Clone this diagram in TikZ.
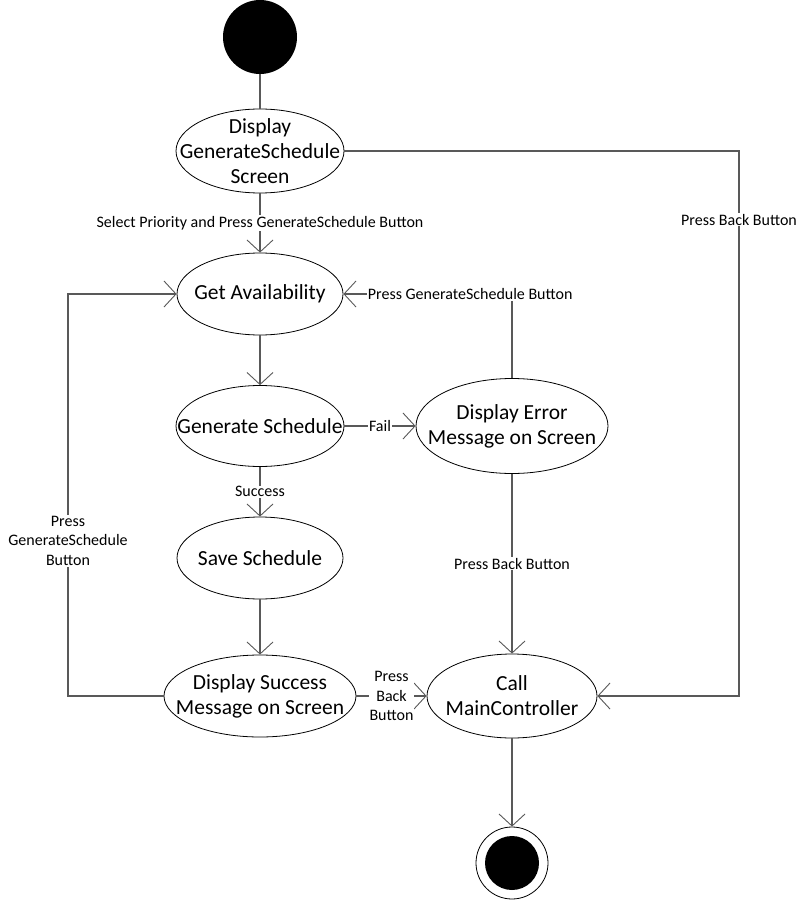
\documentclass[tikz,border=0pt]{standalone}
\usepackage{fontspec}
\setmainfont{Carlito}
\usetikzlibrary{shapes.geometric,arrows.meta}
\begin{document}
\begin{tikzpicture}[x=1pt,y=-1pt,
  state/.style={draw=black, line width=0.8pt, ellipse, fill=white, inner sep=-30pt,
    align=center, font=\fontsize{21.5}{25}\selectfont},
  flow/.style={draw=black!65, line width=1.1pt,
    -{Straight Barb[length=12pt,width=26pt,line width=0.9pt]}},
  plain/.style={draw=black!65, line width=1.1pt},
  lbl/.style={fill=white, inner sep=1pt, align=center,
    font=\fontsize{16}{19.5}\selectfont}]
\useasboundingbox (0,0) rectangle (806,901);

% activity states
\node[circle, fill=black, minimum size=74pt, inner sep=0pt] (start) at (260,37) {};
\node[state, minimum width=168pt, minimum height=84pt] (disp) at (260,151) {Display\\GenerateSchedule\\Screen};
\node[state, minimum width=166pt, minimum height=82pt] (avail) at (260,294) {Get Availability};
\node[state, minimum width=168pt, minimum height=81pt] (gen) at (260,426) {Generate Schedule};
\node[state, minimum width=192pt, minimum height=95pt] (err) at (512,426) {Display Error\\Message on Screen};
\node[state, minimum width=166pt, minimum height=82pt] (save) at (260,558) {Save Schedule};
\node[state, minimum width=192pt, minimum height=82pt] (succ) at (260,696) {Display Success\\Message on Screen};
\node[state, minimum width=170pt, minimum height=84pt] (call) at (512,696) {Call\\MainController};
\node[circle, draw=black, line width=0.8pt, minimum size=72pt, inner sep=0pt] (end) at (512,863) {};
\fill[black] (end.center) circle (27pt);

% transitions
\draw[plain] (start) -- (disp);
\draw[flow] (disp) -- node[lbl] {Select Priority and Press GenerateSchedule Button} (avail);
\draw[flow] (disp.east) -- (739,151) |- node[lbl, pos=0.063] {Press Back Button} (call.east);
\draw[flow] (avail) -- (gen);
\draw[flow] (gen) -- node[lbl] {Fail} (err);
\draw[flow] (err.north) |- node[lbl, pos=0.624] {Press GenerateSchedule Button} (avail.east);
\draw[flow] (gen) -- node[lbl] {Success} (save);
\draw[flow] (save) -- (succ);
\draw[flow] (succ.west) -- (68,696) |- node[lbl, pos=0.193] {Press\\GenerateSchedule\\Button} (avail.west);
\draw[flow] (succ) -- node[lbl] {Press\\Back\\Button} (call);
\draw[flow] (err) -- node[lbl] {Press Back Button} (call);
\draw[flow] (call) -- (end);
\end{tikzpicture}
\end{document}
